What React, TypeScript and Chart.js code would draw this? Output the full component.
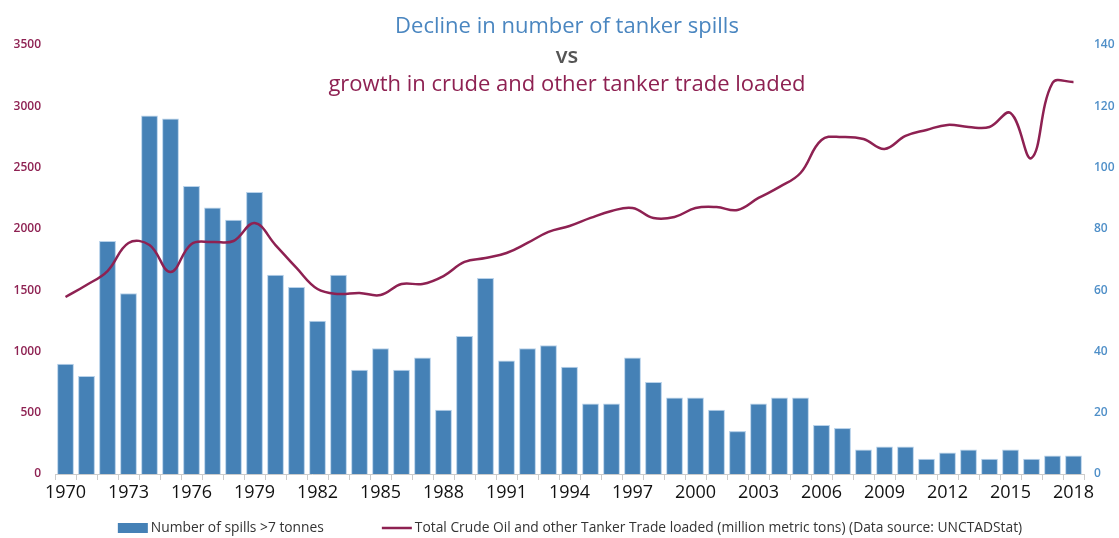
import React, { useEffect, useRef } from "react";
import { Chart, registerables } from "chart.js";

Chart.register(...registerables);

const years: string[] = [
  "1970","1971","1972","1973","1974","1975","1976","1977","1978","1979",
  "1980","1981","1982","1983","1984","1985","1986","1987","1988","1989",
  "1990","1991","1992","1993","1994","1995","1996","1997","1998","1999",
  "2000","2001","2002","2003","2004","2005","2006","2007","2008","2009",
  "2010","2011","2012","2013","2014","2015","2016","2017","2018",
];

const spills: number[] = [
  36, 32, 76, 59, 117, 116, 94, 87, 83, 92,
  65, 61, 50, 65, 34, 41, 34, 38, 21, 45,
  64, 37, 41, 42, 35, 23, 23, 38, 30, 25,
  25, 21, 14, 23, 25, 25, 16, 15, 8, 9,
  9, 5, 7, 8, 5, 8, 5, 6, 6,
];

const tradeLoaded: number[] = [
  1444, 1542, 1656, 1885, 1868, 1648, 1877, 1893, 1901, 2048,
  1868, 1681, 1509, 1469, 1477, 1460, 1550, 1550, 1615, 1730,
  1762, 1803, 1885, 1975, 2023, 2089, 2146, 2170, 2089, 2097,
  2170, 2178, 2154, 2252, 2342, 2456, 2725, 2750, 2733, 2652,
  2758, 2807, 2848, 2831, 2831, 2945, 2578, 3190, 3198,
];

const titleLines: { text: string; color: string; weight: string }[] = [
  { text: "Decline in number of tanker spills", color: "#4a86c0", weight: "500" },
  { text: "vs", color: "#555555", weight: "600" },
  { text: "growth in crude and other tanker trade loaded", color: "#8e2152", weight: "500" },
];

const FONT = "'Open Sans', 'Noto Sans', sans-serif";
const BAR_COLOR = "#4581b6";
const LINE_COLOR = "#8e2152";

const titlePlugin = {
  id: "threeLineTitle",
  afterDraw(chart: any) {
    const ctx = chart.ctx;
    const cx = 567;
    const ys = [27, 57, 85];
    ctx.save();
    ctx.textAlign = "center";
    ctx.textBaseline = "middle";
    titleLines.forEach((l, i) => {
      ctx.font = `${l.weight} 22px ${FONT}`;
      ctx.fillStyle = l.color;
      ctx.fillText(l.text, cx, ys[i]);
    });
    ctx.restore();
  },
};

const legendPlugin = {
  id: "customLegend",
  afterDraw(chart: any) {
    const ctx = chart.ctx;
    const ds = chart.data.datasets;
    const y = 528;
    const boxW = 30;
    const gapText = 3;
    const gapItems = 58;
    ctx.save();
    ctx.font = `13.8px ${FONT}`;
    ctx.textBaseline = "middle";
    ctx.textAlign = "left";
    const w1 = ctx.measureText(ds[0].label).width;
    const w2 = ctx.measureText(ds[1].label).width;
    const total = boxW + gapText + w1 + gapItems + boxW + gapText + w2;
    let x = 570 - total / 2;
    ctx.fillStyle = BAR_COLOR;
    ctx.fillRect(x, y - 5, boxW, 10);
    ctx.fillStyle = "#333333";
    ctx.fillText(ds[0].label, x + boxW + gapText, y);
    x += boxW + gapText + w1 + gapItems;
    ctx.strokeStyle = LINE_COLOR;
    ctx.lineWidth = 2.5;
    ctx.beginPath();
    ctx.moveTo(x, y);
    ctx.lineTo(x + boxW, y);
    ctx.stroke();
    ctx.fillStyle = "#333333";
    ctx.fillText(ds[1].label, x + boxW + gapText, y);
    ctx.restore();
  },
};

export default function App() {
  const ref = useRef<HTMLCanvasElement | null>(null);
  useEffect(() => {
    if (!ref.current) return;
    const chart = new Chart(ref.current, {
      type: "bar",
      data: {
        labels: years,
        datasets: [
          {
            type: "bar",
            label: "Number of spills >7 tonnes",
            data: spills,
            yAxisID: "yRight",
            backgroundColor: BAR_COLOR,
            borderColor: "#b8d2ea",
            borderWidth: 1,
            barPercentage: 0.8,
            categoryPercentage: 1,
            order: 2,
          } as any,
          {
            type: "line",
            label:
              "Total Crude Oil and other Tanker Trade loaded (million metric tons) (Data source: UNCTADStat)",
            data: tradeLoaded,
            yAxisID: "yLeft",
            borderColor: LINE_COLOR,
            backgroundColor: LINE_COLOR,
            borderWidth: 2.5,
            pointRadius: 0,
            tension: 0.4,
            order: 1,
          } as any,
        ],
      },
      options: {
        animation: false,
        responsive: true,
        maintainAspectRatio: false,
        layout: { padding: { top: 45, left: 10, right: 4, bottom: 30 } },
        plugins: {
          legend: { display: false },
          tooltip: { enabled: false },
        },
        scales: {
          x: {
            afterFit: (s: any) => {
              s.height = 34;
            },
            grid: {
              display: true,
              drawOnChartArea: false,
              drawTicks: true,
              tickLength: 6,
              color: "#cccccc",
              offset: true,
            },
            border: { display: true, color: "#cccccc" },
            ticks: {
              autoSkip: false,
              maxRotation: 0,
              padding: 2,
              color: "#111111",
              font: { family: FONT, size: 18 },
              callback: (_v: any, i: number) => (i % 3 === 0 ? years[i] : ""),
            },
          },
          yLeft: {
            type: "linear",
            position: "left",
            min: 0,
            max: 3500,
            afterFit: (s: any) => {
              s.width = 45;
            },
            grid: { display: false, drawTicks: false, tickLength: 0 },
            border: { display: false },
            ticks: {
              stepSize: 500,
              padding: 14,
              color: LINE_COLOR,
              font: { family: FONT, size: 12, weight: "600" },
              callback: (v: any) => String(v),
            },
          },
          yRight: {
            type: "linear",
            position: "right",
            min: 0,
            max: 140,
            afterFit: (s: any) => {
              s.width = 31;
            },
            grid: { display: false, drawTicks: false, tickLength: 0 },
            border: { display: false },
            ticks: {
              stepSize: 20,
              padding: 10,
              color: "#4f8fc8",
              font: { family: FONT, size: 12, weight: "600" },
              callback: (v: any) => String(v),
            },
          },
        },
      } as any,
      plugins: [titlePlugin, legendPlugin],
    });
    return () => chart.destroy();
  }, []);
  return (
    <div style={{ position: "absolute", left: 0, top: 0, width: 1119, height: 538 }}>
      <canvas ref={ref} />
    </div>
  );
}
